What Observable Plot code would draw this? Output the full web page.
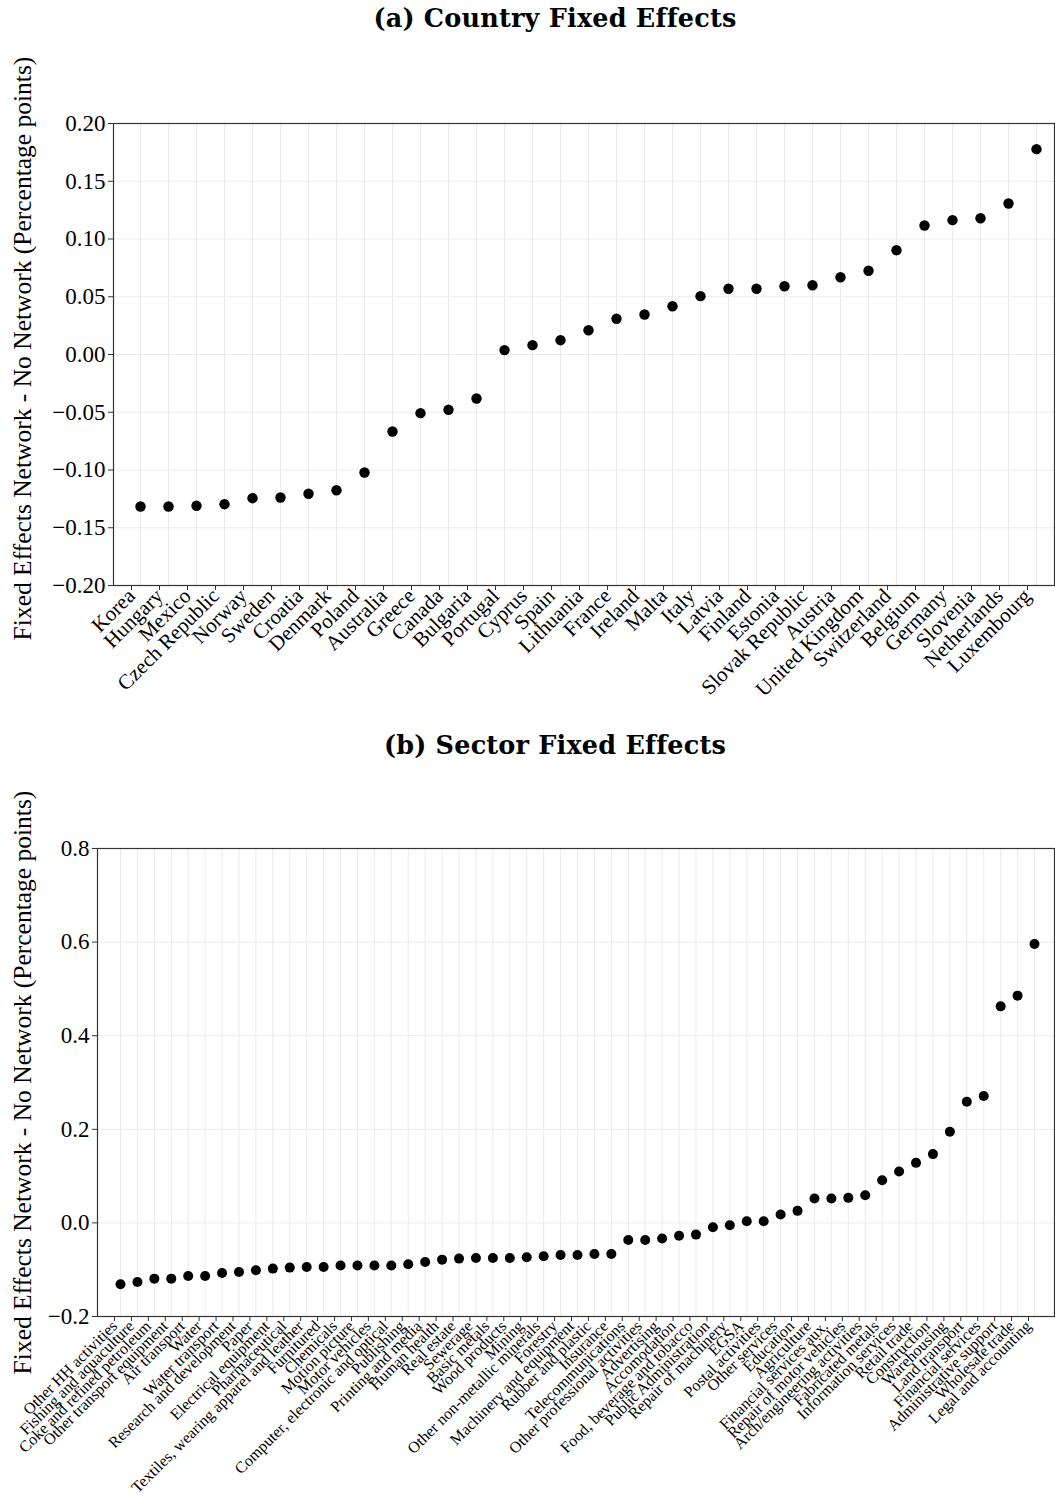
<!DOCTYPE html>
<html>
<head>
<meta charset="utf-8">
<script src="https://cdn.jsdelivr.net/npm/d3@7"></script>
<script src="https://cdn.jsdelivr.net/npm/@observablehq/plot@0.6"></script>
<style>
  body { margin: 0; background: white; width: 1055px; }
  .title { font-family: "DejaVu Serif", serif; font-weight: bold; font-size: 25.5px; text-align: center; padding-left: 55px; color: black; letter-spacing: 0.2px; }
  svg { display: block; }
</style>
</head>
<body>
<div class="title" style="height:40px; line-height:36px;">(a) Country Fixed Effects</div>
<div id="a"></div>
<div class="title" style="height:40px; line-height:40px;">(b) Sector Fixed Effects</div>
<div id="b"></div>
<script>
const yLabel = "Fixed Effects Network - No Network (Percentage points)";

const countries = ["Korea","Hungary","Mexico","Czech Republic","Norway","Sweden","Croatia","Denmark","Poland","Australia","Greece","Canada","Bulgaria","Portugal","Cyprus","Spain","Lithuania","France","Ireland","Malta","Italy","Latvia","Finland","Estonia","Slovak Republic","Austria","United Kingdom","Switzerland","Belgium","Germany","Slovenia","Netherlands","Luxembourg"];
const countryFE = [-0.1316,-0.1316,-0.1310,-0.1296,-0.1244,-0.1238,-0.1206,-0.1175,-0.1022,-0.0667,-0.0508,-0.0479,-0.0381,0.0038,0.0081,0.0124,0.0210,0.0309,0.0346,0.0418,0.0505,0.0569,0.0569,0.0591,0.0600,0.0669,0.0725,0.0903,0.1117,0.1163,0.1180,0.1307,0.1778];
const countryTicks = [-0.20,-0.15,-0.10,-0.05,0.00,0.05,0.10,0.15,0.20];

const sectors = ["Other HH activities","Fishing and aquaculture","Coke and refined petroleum","Other transport equipment","Air transport","Water","Water transport","Research and development","Paper","Electrical equipment","Pharmaceutical","Textiles, wearing apparel and leather","Furnitured","Chemicals","Motion picture","Motor vehicles","Computer, electronic and optical","Publishing","Printing and media","Human health","Real estate","Sewerage","Basic metals","Wood products","Mining","Other non-metallic minerals","Forestry","Machinery and equipment","Rubber and plastic","Insurance","Telecommunications","Other professional activities","Advertising","Accomodation","Food, beverage and tobacco","Public Administration","Repair of machinery","EGSA","Postal activities","Other services","Education","Agriculture","Financial services aux.","Repair of motor vehicles","Arch/engineering activities","Fabricated metals","Information services","Retail trade","Construction","Warehousing","Land transport","Financial services","Administrative support","Wholesale trade","Legal and accounting"];
const sectorFE = [-0.131,-0.1262,-0.1191,-0.1191,-0.1134,-0.1134,-0.107,-0.1048,-0.1012,-0.0977,-0.0955,-0.0941,-0.0941,-0.0912,-0.0912,-0.0912,-0.0912,-0.0884,-0.0834,-0.0785,-0.0763,-0.0749,-0.0749,-0.0749,-0.0734,-0.0713,-0.0685,-0.0685,-0.0663,-0.0663,-0.0365,-0.0365,-0.0335,-0.0275,-0.025,-0.0093,-0.005,0.0036,0.0036,0.0178,0.0257,0.052,0.052,0.0535,0.0592,0.0913,0.1097,0.1283,0.147,0.1947,0.2588,0.271,0.4627,0.4856,0.5961];
const sectorTicks = [-0.2,0.0,0.2,0.4,0.6,0.8];

const countryData = countries.map((c, i) => ({name: c, value: countryFE[i]}));
const sectorData = sectors.map((s, i) => ({name: s, value: sectorFE[i]}));

const grid = "#ebebeb";
const font = "'Liberation Serif', 'Times New Roman', serif";

const chartA = Plot.plot({
  width: 1055, height: 685,
  marginTop: 83, marginBottom: 140, marginLeft: 113, marginRight: 1,
  style: {fontFamily: font, background: "white", color: "black"},
  x: {type: "point", domain: countries, padding: 0, insetLeft: 23, insetRight: 15},
  y: {domain: [-0.2, 0.2]},
  marks: [
    Plot.gridX(countries, {stroke: grid, strokeOpacity: 1}),
    Plot.gridY(countryTicks, {stroke: grid, strokeOpacity: 1}),
    Plot.frame({stroke: "#333", strokeWidth: 1.2}),
    Plot.axisY({ticks: countryTicks, tickFormat: d3.format(".2f"), fontSize: 23, tickSize: 5, tickPadding: 3, label: null, stroke: "#333", fontFamily: font}),
    Plot.axisX({tickRotate: -45, fontSize: 21, tickSize: 5, tickPadding: 2, dx: -9, label: null, stroke: "#333", fontFamily: font}),
    Plot.dot(countryData, {x: "name", y: "value", r: 5.2, fill: "black", stroke: "none"}),
    Plot.text([yLabel], {frameAnchor: "left", textAnchor: "middle", rotate: -90, dx: -91, dy: -6, fontSize: 25.5, fill: "black", fontFamily: font})
  ]
});
document.getElementById("a").appendChild(chartA);

const chartB = Plot.plot({
  width: 1055, height: 746,
  marginTop: 83, marginBottom: 195, marginLeft: 97, marginRight: 1,
  style: {fontFamily: font, background: "white", color: "black"},
  x: {type: "point", domain: sectors, padding: 0, insetLeft: 23, insetRight: 20},
  y: {domain: [-0.2, 0.8]},
  marks: [
    Plot.gridX(sectors, {stroke: grid, strokeOpacity: 1}),
    Plot.gridY(sectorTicks, {stroke: grid, strokeOpacity: 1}),
    Plot.frame({stroke: "#333", strokeWidth: 1.2}),
    Plot.axisY({ticks: sectorTicks, tickFormat: d3.format(".1f"), fontSize: 23, tickSize: 5, tickPadding: 3, label: null, stroke: "#333", fontFamily: font}),
    Plot.axisX({tickRotate: -45, fontSize: 16, tickSize: 5, tickPadding: 2, dx: -6, label: null, stroke: "#333", fontFamily: font}),
    Plot.dot(sectorData, {x: "name", y: "value", r: 5, fill: "black", stroke: "none"}),
    Plot.text([yLabel], {frameAnchor: "left", textAnchor: "middle", rotate: -90, dx: -75, fontSize: 25.5, fill: "black", fontFamily: font})
  ]
});
document.getElementById("b").appendChild(chartB);
</script>
</body>
</html>
